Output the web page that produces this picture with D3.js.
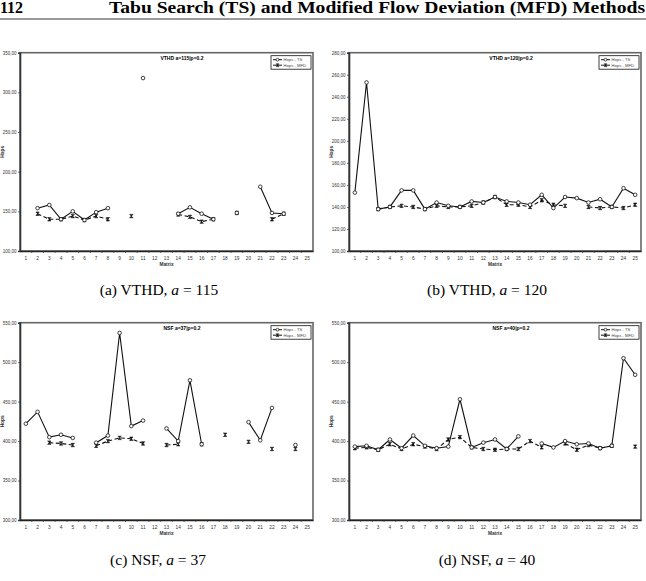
<!DOCTYPE html>
<html>
<head>
<meta charset="utf-8">
<script src="https://cdn.jsdelivr.net/npm/d3@7"></script>
<style>
  body { margin: 0; background: #fff; }
  svg { display: block; }
  .tick text { font-family: "Liberation Sans", Arial, sans-serif; }
</style>
</head>
<body>
<div id="fig"></div>
<script>
// categories (test matrices 1..25)
var matrices = ["1","2","3","4","5","6","7","8","9","10","11","12","13","14","15","16","17","18","19","20","21","22","23","24","25"];

// (a) VTHD a=115
var tsA  = [null,154,158,140,150,139,149,154,null,null,318,null,null,147,155,147,140,null,148,null,181,148,147,null,null];
var mfdA = [null,147,140,140,144,139,144,140,null,144,null,null,null,146,143,137,140,null,148,null,null,140,147,null,null];
// (b) VTHD a=120
var tsB  = [153,253,138,140,155,155,138,144,141,140,145,144,149,145,144,142,151,139,149,148,144,147,140,157,151];
var mfdB = [null,null,138,140,141,140,138,141,140,140,141,144,149,142,142,140,146,142,141,null,140,139,140,139,142];
// (c) NSF a=37
var tsC  = [422,437,405,408,404,null,398,407,537,419,426,null,416,400,477,396,null,null,null,424,401,442,null,395,null];
var mfdC = [null,null,398,397,395,null,394,400,404,403,397,null,395,396,null,396,null,408,null,399,null,390,null,390,null];
// (d) NSF a=40
var tsD  = [393,394,389,402,391,407,394,391,393,453,392,398,402,390,406,null,397,392,400,396,397,391,394,505,484];
var mfdD = [391,392,389,396,390,396,393,390,402,405,392,390,389,390,390,400,392,null,397,389,395,391,394,null,393];

var ticksVTHD115 = [100,150,200,250,300,350];
var ticksVTHD120 = [100,120,140,160,180,200,220,240,260,280];
var ticksNSF = [300,350,400,450,500,550];

var W = 646, H = 581;
var svg = d3.select("#fig").append("svg").attr("width", W).attr("height", H);

// page header
svg.append("text").attr("x", 0).attr("y", 13)
  .style("font-family", "'Liberation Serif', 'DejaVu Serif', serif")
  .style("font-weight", "bold").style("font-size", "16px")
  .text("112");
svg.append("text").attr("x", 109).attr("y", 13)
  .attr("textLength", 536).attr("lengthAdjust", "spacingAndGlyphs")
  .style("font-family", "'Liberation Serif', 'DejaVu Serif', serif")
  .style("font-weight", "bold").style("font-size", "16px")
  .text("Tabu Search (TS) and Modified Flow Deviation (MFD) Methods");
svg.append("line").attr("x1", 0).attr("x2", W).attr("y1", 19).attr("y2", 19)
  .attr("stroke", "#000").attr("stroke-width", 0.8);

var fmt = function(v) { return d3.format(".2f")(v).replace(".", ","); };

function drawPanel(p) {
  var x = d3.scaleBand().domain(matrices).range([p.x0, p.x1]);
  var y = d3.scaleLinear().domain([p.ticks[0], p.ticks[p.ticks.length - 1]]).range([p.y1, p.y0]);
  var g = svg.append("g");

  g.append("rect").attr("x", p.x0).attr("y", p.y0)
    .attr("width", p.x1 - p.x0).attr("height", p.y1 - p.y0)
    .attr("fill", "#fff").attr("stroke", "#666").attr("stroke-width", 1.6);

  // y axis
  var yAxis = g.append("g").attr("transform", `translate(${p.x0},0)`)
    .call(d3.axisLeft(y).tickValues(p.ticks).tickSize(2).tickPadding(1.5).tickFormat(fmt));
  yAxis.select(".domain").attr("stroke", "#333").attr("stroke-width", 1.6);
  yAxis.selectAll(".tick line").attr("stroke", "#333").attr("stroke-width", 0.7);
  yAxis.selectAll(".tick text").style("font-size", "4.5px").attr("fill", "#333");

  // x axis: labels at centres, ticks at band boundaries
  var xAxis = g.append("g").attr("transform", `translate(0,${p.y1})`)
    .call(d3.axisBottom(x).tickSize(0).tickPadding(6));
  xAxis.select(".domain").attr("stroke", "#222").attr("stroke-width", 1.6);
  xAxis.selectAll(".tick text").style("font-size", "4.8px").attr("fill", "#333");
  g.selectAll(".xb").data(matrices.slice(1)).enter().append("line")
    .attr("x1", d => x(d)).attr("x2", d => x(d))
    .attr("y1", p.y1).attr("y2", p.y1 + 2)
    .attr("stroke", "#333").attr("stroke-width", 0.7);

  g.append("text").attr("x", (p.x0 + p.x1) / 2).attr("y", p.y1 + 15)
    .attr("text-anchor", "middle")
    .style("font-family", "'Liberation Sans', Arial, sans-serif")
    .style("font-size", "4.8px").style("font-weight", "bold").attr("fill", "#333")
    .text("Matrix");
  g.append("text")
    .attr("transform", `translate(${p.hx},${(p.y0 + p.y1) / 2}) rotate(-90)`)
    .attr("text-anchor", "middle")
    .style("font-family", "'Liberation Sans', Arial, sans-serif")
    .style("font-size", "4.8px").style("font-weight", "bold").attr("fill", "#333")
    .text("Hops");

  // chart title
  g.append("text").attr("x", p.tx).attr("y", p.y0 + 7)
    .attr("text-anchor", "middle")
    .style("font-family", "'Liberation Sans', Arial, sans-serif")
    .style("font-size", "5px").style("font-weight", "bold")
    .text(p.title);

  function pts(vals) {
    return vals.map((v, i) => ({ k: matrices[i], v: v }));
  }
  var line = d3.line().defined(d => d.v !== null)
    .x(d => x(d.k) + x.bandwidth() / 2).y(d => y(d.v));

  // MFD first (dashed), TS on top
  g.append("path").datum(pts(p.mfd)).attr("d", line)
    .attr("fill", "none").attr("stroke", "#111").attr("stroke-width", 1.1)
    .attr("stroke-dasharray", "4,2.5");
  g.append("path").datum(pts(p.ts)).attr("d", line)
    .attr("fill", "none").attr("stroke", "#111").attr("stroke-width", 1.1);

  var m = pts(p.mfd).filter(d => d.v !== null);
  g.selectAll(".mx").data(m).enter().append("path")
    .attr("transform", d => `translate(${x(d.k) + x.bandwidth() / 2},${y(d.v)})`)
    .attr("d", "M-1.7,-1.7L1.7,-1.7L-1.7,1.7L1.7,1.7Z")
    .attr("fill", "#111").attr("stroke", "#111").attr("stroke-width", 0.6);

  var t = pts(p.ts).filter(d => d.v !== null);
  g.selectAll(".mo").data(t).enter().append("circle")
    .attr("cx", d => x(d.k) + x.bandwidth() / 2).attr("cy", d => y(d.v))
    .attr("r", 1.8).attr("fill", "#fff").attr("stroke", "#111").attr("stroke-width", 0.8);

  // legend
  var lx = p.x1 - 42, ly = p.y0 + 3;
  var lg = g.append("g");
  lg.append("rect").attr("x", lx).attr("y", ly).attr("width", 40).attr("height", 13.5)
    .attr("fill", "#fff").attr("stroke", "#111").attr("stroke-width", 0.8);
  [["Hops - TS", "ts"], ["Hops - MFD", "mfd"]].forEach(function(e, i) {
    var yy = ly + 4 + i * 5.5;
    lg.append("line").attr("x1", lx + 2).attr("x2", lx + 11).attr("y1", yy).attr("y2", yy)
      .attr("stroke", "#111").attr("stroke-width", 1);
    if (e[1] === "ts") {
      lg.append("circle").attr("cx", lx + 6.5).attr("cy", yy).attr("r", 1.4)
        .attr("fill", "#fff").attr("stroke", "#111").attr("stroke-width", 0.7);
    } else {
      lg.append("path").attr("transform", `translate(${lx + 6.5},${yy})`)
        .attr("d", "M-1.4,-1.4L1.4,-1.4L-1.4,1.4L1.4,1.4Z")
        .attr("fill", "#111").attr("stroke", "#111").attr("stroke-width", 0.5);
    }
    lg.append("text").attr("x", lx + 12.5).attr("y", yy + 1.4)
      .style("font-family", "'Liberation Sans', Arial, sans-serif")
      .style("font-size", "4.2px").attr("fill", "#444")
      .text(e[0]);
  });

  // caption
  var cap = svg.append("text").attr("x", p.capx).attr("y", p.capy)
    .attr("text-anchor", "middle")
    .style("font-family", "'Liberation Serif', 'DejaVu Serif', serif")
    .style("font-size", "15.5px");
  cap.append("tspan").text(p.cap[0]);
  cap.append("tspan").style("font-style", "italic").text("a");
  cap.append("tspan").text(" = " + p.cap[1]);
}

drawPanel({ x0: 20, x1: 313, y0: 52.7, y1: 251, hx: 4, tx: 182, ticks: ticksVTHD115,
  ts: tsA, mfd: mfdA, title: "VTHD  a=115|p=0.2", cap: ["(a) VTHD, ", "115"], capx: 159, capy: 295 });
drawPanel({ x0: 349, x1: 641, y0: 52.7, y1: 251, hx: 333, tx: 511, ticks: ticksVTHD120,
  ts: tsB, mfd: mfdB, title: "VTHD  a=120|p=0.2", cap: ["(b) VTHD, ", "120"], capx: 487, capy: 295 });
drawPanel({ x0: 20, x1: 313, y0: 322.7, y1: 520, hx: 4, tx: 182, ticks: ticksNSF,
  ts: tsC, mfd: mfdC, title: "NSF  a=37|p=0.2", cap: ["(c) NSF, ", "37"], capx: 158, capy: 565 });
drawPanel({ x0: 349, x1: 641, y0: 322.7, y1: 520, hx: 333, tx: 511, ticks: ticksNSF,
  ts: tsD, mfd: mfdD, title: "NSF  a=40|p=0.2", cap: ["(d) NSF, ", "40"], capx: 487, capy: 565 });
</script>
</body>
</html>
